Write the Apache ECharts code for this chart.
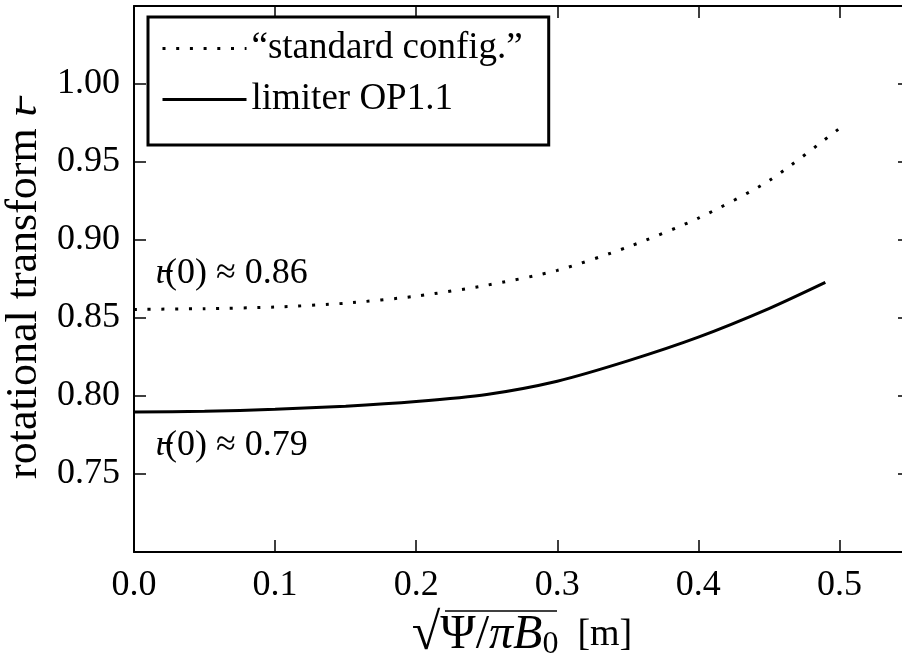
<!DOCTYPE html>
<html>
<head>
<meta charset="utf-8">
<script src="https://cdn.jsdelivr.net/npm/echarts@6/dist/echarts.min.js"></script>
<style>
  html, body { margin: 0; padding: 0; background: #fff; }
  #chart { width: 902px; height: 653px; }
</style>
</head>
<body>
<div id="chart"></div>
<script>
// radius sqrt(Psi/pi B0) [m] and rotational transform
var xStandard = [0, 0.05, 0.1, 0.15, 0.2, 0.25, 0.3, 0.35, 0.4, 0.45, 0.5, 0.505];
var iotaStandard = [0.8555, 0.856, 0.857, 0.8595, 0.864, 0.871, 0.8805, 0.8955, 0.914, 0.938, 0.9715, 0.975];

var xLimiter = [0, 0.05, 0.1, 0.15, 0.2, 0.25, 0.3, 0.35, 0.4, 0.45, 0.49];
var iotaLimiter = [0.7898, 0.7902, 0.7915, 0.7935, 0.7965, 0.801, 0.8095, 0.8225, 0.8377, 0.856, 0.8728];

var seriesNames = ['\u201cstandard config.\u201d', 'limiter OP1.1'];
var notes = ['0.86', '0.79'];

function pairs(xs, ys) {
  return xs.map(function (x, i) { return [x, ys[i]]; });
}

var FONT = 'Liberation Serif';
var IOTA = '\u03b9\u0335';
var chart = echarts.init(document.getElementById('chart'));

function ticks() {
  return { show: true, inside: true, length: 12, lineStyle: { color: '#000', width: 1.5 } };
}
function spine() {
  return { show: true, onZero: false, lineStyle: { color: '#000', width: 2 } };
}
function note(text, top) {
  return {
    type: 'text',
    left: 155,
    top: top,
    style: {
      text: '{i|' + IOTA + '}(0) \u2248 ' + text,
      font: '36px "' + FONT + '"',
      fill: '#000',
      rich: { i: { fontFamily: FONT, fontSize: 36, fontStyle: 'italic', fill: '#000' } }
    }
  };
}

var option = {
  animation: false,
  backgroundColor: '#fff',
  textStyle: { fontFamily: FONT, color: '#000' },
  grid: { left: 134, top: 6, right: -8, bottom: 101, outerBoundsMode: 'none', containLabel: false },
  legend: {
    orient: 'vertical',
    left: 148,
    top: 17,
    itemWidth: 84,
    itemHeight: 14,
    itemGap: 14,
    padding: [13, 26, 27, 13],
    borderColor: '#000',
    borderWidth: 3,
    borderRadius: 0,
    itemStyle: { opacity: 0, color: 'rgba(0,0,0,0)', borderWidth: 0 },
    lineStyle: { width: 3 },
    textStyle: { fontFamily: FONT, fontSize: 37, color: '#000' },
    data: seriesNames
  },
  xAxis: [{
    type: 'value',
    min: 0,
    max: 0.55,
    interval: 0.1,
    position: 'bottom',
    axisLine: spine(),
    axisTick: ticks(),
    splitLine: { show: false },
    axisLabel: {
      fontFamily: FONT, fontSize: 36, color: '#000', margin: 16,
      showMaxLabel: false,
      formatter: function (v) { return v.toFixed(1); }
    },
    name: '{sq|\u221a}{m|\u03a8/}{i|\u03c0B}{s|0}{t|  [m]}',
    nameLocation: 'middle',
    nameGap: 50,
    nameTextStyle: {
      rich: {
        sq: { fontFamily: FONT, fontSize: 52, color: '#000' },
        m: { fontFamily: FONT, fontSize: 48, color: '#000' },
        t: { fontFamily: FONT, fontSize: 38, color: '#000' },
        i: { fontFamily: FONT, fontSize: 48, fontStyle: 'italic', color: '#000' },
        s: { fontFamily: FONT, fontSize: 32, color: '#000', verticalAlign: 'bottom', padding: [12, 0, 0, 0] }
      }
    }
  }, {
    type: 'value',
    min: 0,
    max: 0.55,
    interval: 0.1,
    position: 'top',
    axisLine: spine(),
    axisTick: ticks(),
    axisLabel: { show: false },
    splitLine: { show: false }
  }],
  yAxis: [{
    type: 'value',
    min: 0.70,
    max: 1.05,
    interval: 0.05,
    position: 'left',
    axisLine: spine(),
    axisTick: ticks(),
    splitLine: { show: false },
    axisLabel: {
      fontFamily: FONT, fontSize: 36, color: '#000', margin: 14,
      showMinLabel: false, showMaxLabel: false,
      formatter: function (v) { return v.toFixed(2); }
    },
    name: 'rotational transform {i|' + IOTA + '}',
    nameLocation: 'middle',
    nameRotate: 90,
    nameGap: 88,
    nameTextStyle: {
      fontFamily: FONT, fontSize: 44, color: '#000',
      padding: [0, 26, 0, 0],
      rich: { i: { fontFamily: FONT, fontSize: 44, fontStyle: 'italic', color: '#000' } }
    }
  }, {
    type: 'value',
    min: 0.70,
    max: 1.05,
    interval: 0.05,
    position: 'right',
    axisLine: spine(),
    axisTick: ticks(),
    axisLabel: { show: false },
    splitLine: { show: false }
  }],
  series: [{
    name: seriesNames[0],
    type: 'line',
    showSymbol: false,
    symbol: 'none',
    smooth: 0.25,
    data: pairs(xStandard, iotaStandard),
    lineStyle: { color: '#000', width: 3, type: [3, 10.7], cap: 'butt' },
    itemStyle: { color: '#000' }
  }, {
    name: seriesNames[1],
    type: 'line',
    showSymbol: false,
    symbol: 'none',
    smooth: 0.25,
    data: pairs(xLimiter, iotaLimiter),
    lineStyle: { color: '#000', width: 3, type: 'solid' },
    itemStyle: { color: '#000' }
  }],
  graphic: [
    note(notes[0], 256),
    note(notes[1], 428),
    {
      type: 'line',
      shape: { x1: 445, y1: 611, x2: 557, y2: 611 },
      style: { stroke: '#000', lineWidth: 1.5 }
    }
  ]
};

chart.setOption(option);
</script>
</body>
</html>
